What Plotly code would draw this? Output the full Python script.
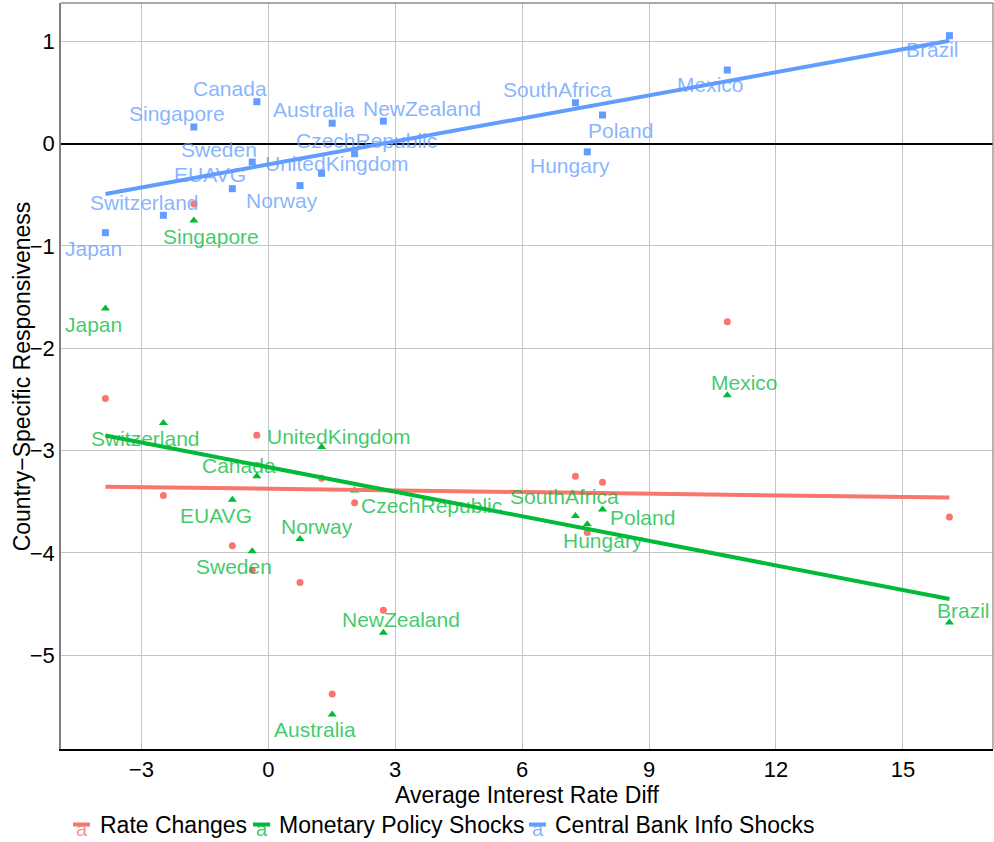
import numpy as np
import plotly.graph_objects as go

# ---------------- data ----------------
countries = ["Japan", "Switzerland", "Singapore", "EUAVG", "Sweden", "Canada", "Norway",
             "UnitedKingdom", "Australia", "CzechRepublic", "NewZealand", "SouthAfrica",
             "Hungary", "Poland", "Mexico", "Brazil"]
avg_rate_diff = [-3.85, -2.48, -1.76, -0.85, -0.38, -0.27, 0.75,
                 1.26, 1.51, 2.04, 2.72, 7.26,
                 7.54, 7.90, 10.85, 16.10]
rate_changes = [-2.49, -3.44, -0.59, -3.93, -4.17, -2.85, -4.29,
                -3.27, -5.38, -3.51, -4.56, -3.25,
                -3.80, -3.31, -1.74, -3.65]
mp_shocks = [-1.61, -2.73, -0.75, -3.48, -3.985, -3.25, -3.865,
             -2.965, -5.58, -3.39, -4.78, -3.64,
             -3.72, -3.575, -2.46, -4.68]
cbi_shocks = [-0.87, -0.70, 0.163, -0.44, -0.18, 0.41, -0.41,
              -0.29, 0.20, -0.098, 0.22, 0.40,
              -0.08, 0.28, 0.72, 1.056]
series_names = ["Rate Changes", "Monetary Policy Shocks", "Central Bank Info Shocks"]

x_ticks = [-3, 0, 3, 6, 9, 12, 15]
y_ticks = [-5, -4, -3, -2, -1, 0, 1]

# ---------------- styles (label pixel offsets) ----------------
mp_label_offsets = {
    "Japan": (-12, 16), "Switzerland": (-18, 16), "Singapore": (17, 16), "EUAVG": (-16, 16),
    "Sweden": (-18, 15), "Canada": (-18, -11), "Norway": (17, -13), "UnitedKingdom": (17, -11),
    "Australia": (-17, 15), "CzechRepublic": (77, 15), "NewZealand": (18, -13),
    "SouthAfrica": (-11, -20), "Hungary": (16, 16), "Poland": (40, 8), "Mexico": (17, -13),
    "Brazil": (14, -12),
}
cbi_label_offsets = {
    "Japan": (-12, 16), "Switzerland": (-19, -13), "Singapore": (-17, -13), "EUAVG": (-22, -14),
    "Sweden": (-33, -13), "Canada": (-27, -13), "Norway": (-18, 15), "UnitedKingdom": (15, -10),
    "Australia": (-18, -14), "CzechRepublic": (12, -13), "NewZealand": (39, -13),
    "SouthAfrica": (-18, -13), "Hungary": (-17, 14), "Poland": (18, 15), "Mexico": (-17, 14),
    "Brazil": (-17, 14),
}

RED, GREEN, BLUE = "#F8766D", "#00BA38", "#619CFF"
RED_TXT = "rgba(248,118,109,0.75)"
GREEN_TXT, BLUE_TXT = "rgba(0,186,56,0.75)", "rgba(97,156,255,0.75)"
FONT = "Liberation Sans, Arial, Helvetica, sans-serif"

# layout geometry (pixels)
W, H = 994, 842
ML, MR, MT, MB = 61, 1, 3, 93
PW, PH = W - ML - MR, H - MT - MB
legend_key_px = [(73, 90), (253, 270), (529, 546)]   # key line extents
legend_text_px = [98, 277, 553]                       # text left edges
legend_line_y, legend_text_y, legend_glyph_y = 824.5, 825, 829


def px_x(p):
    return (p - ML) / PW


def px_y(p):
    return (H - MB - p) / PH


x = np.array(avg_rate_diff)
xfit = np.array([x.min(), x.max()])

fig = go.Figure()

series = [
    (series_names[0], rate_changes, RED, RED_TXT, "circle", 7),
    (series_names[1], mp_shocks, GREEN, GREEN_TXT, "triangle-up", 8),
    (series_names[2], cbi_shocks, BLUE, BLUE_TXT, "square", 7),
]

for name, vals, col, tcol, sym, size in series:
    fig.add_trace(go.Scatter(x=avg_rate_diff, y=vals, mode="markers", showlegend=False,
                             marker=dict(color=col, symbol=sym, size=size, line=dict(width=0)),
                             name=name))

for name, vals, col, tcol, sym, size in series:
    b, a = np.polyfit(x, np.array(vals), 1)
    fig.add_trace(go.Scatter(x=xfit, y=a + b * xfit, mode="lines",
                             line=dict(color=col, width=4), name=name, showlegend=False))

for vals, offs, col in [(mp_shocks, mp_label_offsets, GREEN_TXT), (cbi_shocks, cbi_label_offsets, BLUE_TXT)]:
    for c, xv, yv in zip(countries, avg_rate_diff, vals):
        dx, dy = offs[c]
        fig.add_annotation(x=xv, y=yv, text=c, showarrow=False, xshift=dx, yshift=-dy,
                           font=dict(color=col, size=21, family=FONT))

# legend drawn by hand (ggplot style: short line + "a" glyph key)
shapes = [
    dict(type="line", xref="paper", yref="paper", x0=0, x1=1, y0=1, y1=1,
         line=dict(color="#8c8c8c", width=1.3), layer="above"),
    dict(type="line", xref="paper", yref="paper", x0=1, x1=1, y0=0, y1=1,
         line=dict(color="#8c8c8c", width=1.3), layer="above"),
]
for (name, vals, col, tcol, sym, size), (k0, k1), tx in zip(series, legend_key_px, legend_text_px):
    shapes.append(dict(type="line", xref="paper", yref="paper",
                       x0=px_x(k0), x1=px_x(k1), y0=px_y(legend_line_y), y1=px_y(legend_line_y),
                       line=dict(color=col, width=4)))
    fig.add_annotation(text="a", xref="paper", yref="paper",
                       x=px_x((k0 + k1) / 2), y=px_y(legend_glyph_y),
                       xanchor="center", yanchor="middle", showarrow=False,
                       font=dict(size=20, family=FONT, color=tcol))
    fig.add_annotation(text=name, xref="paper", yref="paper",
                       x=px_x(tx), y=px_y(legend_text_y),
                       xanchor="left", yanchor="middle", showarrow=False,
                       font=dict(size=23, family=FONT, color="black"))

# y-axis title as rotated annotation (sits close to the tick labels)
fig.add_annotation(text="Country\u2212Specific Responsiveness", xref="paper", yref="paper",
                   x=-0.0415, y=0.5, xanchor="center", yanchor="middle", textangle=-90,
                   showarrow=False, font=dict(size=23, family=FONT, color="black"))

fig.update_layout(
    width=W, height=H,
    margin=dict(l=ML, r=MR, t=MT, b=MB),
    paper_bgcolor="white", plot_bgcolor="white",
    font=dict(family=FONT, size=22, color="black"),
    showlegend=False,
    shapes=shapes,
)
fig.update_xaxes(range=[-4.90, 17.13], tickvals=x_ticks, ticks="", showgrid=True,
                 gridcolor="#c4c4c4", gridwidth=1.2, zeroline=False,
                 showline=True, linecolor="black", linewidth=1.5,
                 tickfont=dict(size=22), title=dict(text="Average Interest Rate Diff", font=dict(size=23), standoff=0))
fig.update_yaxes(range=[-5.917, 1.375], tickvals=y_ticks, ticks="", showgrid=True,
                 gridcolor="#c4c4c4", gridwidth=1.2, zeroline=True, zerolinecolor="black",
                 zerolinewidth=2, showline=True, linecolor="#7f7f7f", linewidth=1.5,
                 tickfont=dict(size=22))

fig.write_html("out.html")
